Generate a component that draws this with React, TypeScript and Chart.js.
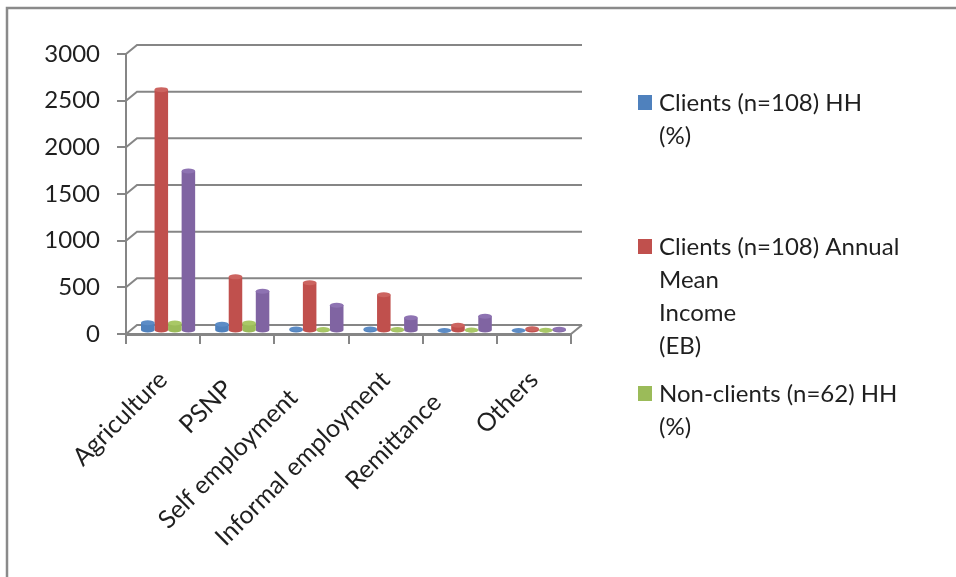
import React, { useEffect, useRef } from "react";
import { Chart, registerables } from "chart.js";

Chart.register(...registerables);

const categories = ["Agriculture", "PSNP", "Self employment", "Informal employment", "Remittance", "Others"];
const clientsShare = [89, 72, 21, 21, 5, 5];
const clientsIncome = [2586, 580, 518, 389, 61, 25];
const nonClientsShare = [86, 86, 15, 15, 10, 8];
const nonClientsIncome = [1715, 425, 275, 143, 158, 18];
const yTicks = [0, 500, 1000, 1500, 2000, 2500, 3000];

const seriesNames = [
  "Clients (n=108) HH (%)",
  "Clients (n=108) Annual Mean Income (EB)",
  "Non-clients (n=62) HH (%)",
  "Non-clients (n=62) Annual Mean Income (EB)",
];
const legendLines = [
  ["Clients (n=108) HH", "(%)"],
  ["Clients (n=108) Annual", "Mean", "Income", "(EB)"],
  ["Non-clients (n=62) HH", "(%)"],
];

// Trailing spaces slide each slanted category label down along its own direction.
const labelStagger = [0, 2, 4, 0, 5, 0];

const palette = [
  { side: "#2f6296", mid: "#4f81bd", light: "#6a98d0", top: "#5c8cc6" },
  { side: "#a33c39", mid: "#c0504d", light: "#d0625f", top: "#cc6460" },
  { side: "#7c9a3f", mid: "#9bbb59", light: "#aecb6c", top: "#a9c866" },
  { side: "#604a7f", mid: "#8064a2", light: "#9379b4", top: "#8e73b2" },
];

const GRAY = "#868686";
const INK = "#1f1f1f";
const FONT = "Lato, 'Open Sans', sans-serif";
const DEPTH_X = 11;
const DEPTH_Y = 9;
const BAR_SHIFT_X = 5;
const BAR_SHIFT_Y = -3;

// Back wall, floor and the slanted links that give the plot its perspective.
const wallPlugin = {
  id: "wall",
  beforeDatasetsDraw(chart: any) {
    const { ctx, chartArea, scales } = chart;
    ctx.save();
    ctx.strokeStyle = GRAY;
    ctx.lineWidth = 2;
    for (const t of scales.y.ticks) {
      const y = scales.y.getPixelForValue(t.value);
      ctx.beginPath();
      ctx.moveTo(chartArea.left, y);
      ctx.lineTo(chartArea.left + DEPTH_X, y - DEPTH_Y);
      ctx.lineTo(chartArea.right + DEPTH_X, y - DEPTH_Y);
      ctx.stroke();
    }
    ctx.beginPath();
    ctx.moveTo(chartArea.right, chartArea.bottom);
    ctx.lineTo(chartArea.right + DEPTH_X, chartArea.bottom - DEPTH_Y);
    ctx.stroke();
    ctx.restore();
  },
};

// Turns each flat bar into a cylinder with a lit front and elliptical caps.
const cylinderPlugin = {
  id: "cylinders",
  beforeDatasetDraw(chart: any) {
    chart.ctx.save();
    chart.ctx.translate(BAR_SHIFT_X, BAR_SHIFT_Y);
  },
  afterDatasetDraw(chart: any, args: any) {
    const { ctx } = chart;
    const colors = palette[args.index];
    for (const bar of args.meta.data) {
      const { x, y, base, width } = bar.getProps(["x", "y", "base", "width"], true);
      const rx = width / 2;
      ctx.fillStyle = colors.mid;
      ctx.beginPath();
      ctx.ellipse(x, base, rx, 2.5, 0, 0, Math.PI);
      ctx.fill();
      ctx.fillStyle = colors.top;
      ctx.beginPath();
      ctx.ellipse(x, y, rx, 2.5, 0, 0, Math.PI * 2);
      ctx.fill();
    }
    ctx.restore();
  },
};

// Key on the right; its entries sit at uneven heights and wrap over several lines.
const keyPlugin = {
  id: "key",
  afterDraw(chart: any) {
    const { ctx } = chart;
    const lineStep = 33;
    const firstLine = [103, 247, 394];
    ctx.save();
    ctx.font = `24px ${FONT}`;
    ctx.textBaseline = "middle";
    legendLines.forEach((lines, i) => {
      ctx.fillStyle = palette[i].mid;
      ctx.fillRect(638, firstLine[i] - 8, 14, 15);
      ctx.fillStyle = INK;
      lines.forEach((line, j) => ctx.fillText(line, 659, firstLine[i] + j * lineStep));
    });
    ctx.restore();
  },
};

// Outer frame: only the top and left edges are visible.
const framePlugin = {
  id: "frame",
  beforeDraw(chart: any) {
    const { ctx, width, height } = chart;
    ctx.save();
    ctx.fillStyle = "#ffffff";
    ctx.fillRect(0, 0, width, height);
    ctx.strokeStyle = "#8a8a8a";
    ctx.lineWidth = 2.5;
    ctx.beginPath();
    ctx.moveTo(7, height);
    ctx.lineTo(7, 8);
    ctx.lineTo(width, 8);
    ctx.stroke();
    ctx.restore();
  },
};

export default function App() {
  const ref = useRef<HTMLCanvasElement>(null);

  useEffect(() => {
    document.body.style.margin = "0";
    const cylinderFill = (i: number) => (c: any) => {
      const el = c.element;
      const props = el && el.getProps ? el.getProps(["x", "width"], true) : null;
      if (!props || !Number.isFinite(props.x)) return palette[i].mid;
      const left = props.x - props.width / 2;
      const g = c.chart.ctx.createLinearGradient(left, 0, left + props.width, 0);
      g.addColorStop(0, palette[i].side);
      g.addColorStop(0.25, palette[i].light);
      g.addColorStop(0.7, palette[i].mid);
      g.addColorStop(1, palette[i].side);
      return g;
    };
    const values = [clientsShare, clientsIncome, nonClientsShare, nonClientsIncome];
    const chart = new Chart(ref.current!, {
      type: "bar",
      data: {
        labels: categories,
        datasets: values.map((data, i) => ({
          label: seriesNames[i],
          data,
          backgroundColor: cylinderFill(i),
          categoryPercentage: 0.73,
          barPercentage: 1,
        })),
      },
      plugins: [framePlugin, wallPlugin, cylinderPlugin, keyPlugin],
      options: {
        animation: false,
        responsive: false,
        layout: { padding: { top: 54, right: 385, left: 0, bottom: 0 } },
        plugins: { legend: { display: false }, tooltip: { enabled: false } },
        scales: {
          x: {
            afterFit: (s: any) => {
              s.height = 243;
            },
            grid: { drawOnChartArea: false, color: GRAY, lineWidth: 2, tickLength: 10 },
            border: { color: GRAY, width: 3 },
            ticks: {
              color: INK,
              font: { family: FONT, size: 25 },
              minRotation: 45,
              maxRotation: 45,
              autoSkip: false,
              padding: 21,
              callback: (_: any, i: number) => categories[i] + " ".repeat(labelStagger[i]),
            },
          },
          y: {
            min: 0,
            max: 3000,
            afterBuildTicks: (s: any) => {
              s.ticks = yTicks.map((value) => ({ value }));
            },
            afterFit: (s: any) => {
              s.width = 126;
            },
            grid: { drawOnChartArea: false, color: GRAY, lineWidth: 2, tickLength: 9 },
            border: { color: GRAY, width: 2 },
            ticks: {
              color: INK,
              font: { family: FONT, size: 24 },
              padding: 17,
              callback: (v: any) => String(v),
            },
          },
        },
      },
    });
    return () => chart.destroy();
  }, []);

  return <canvas ref={ref} width={956} height={577} style={{ display: "block" }} />;
}
